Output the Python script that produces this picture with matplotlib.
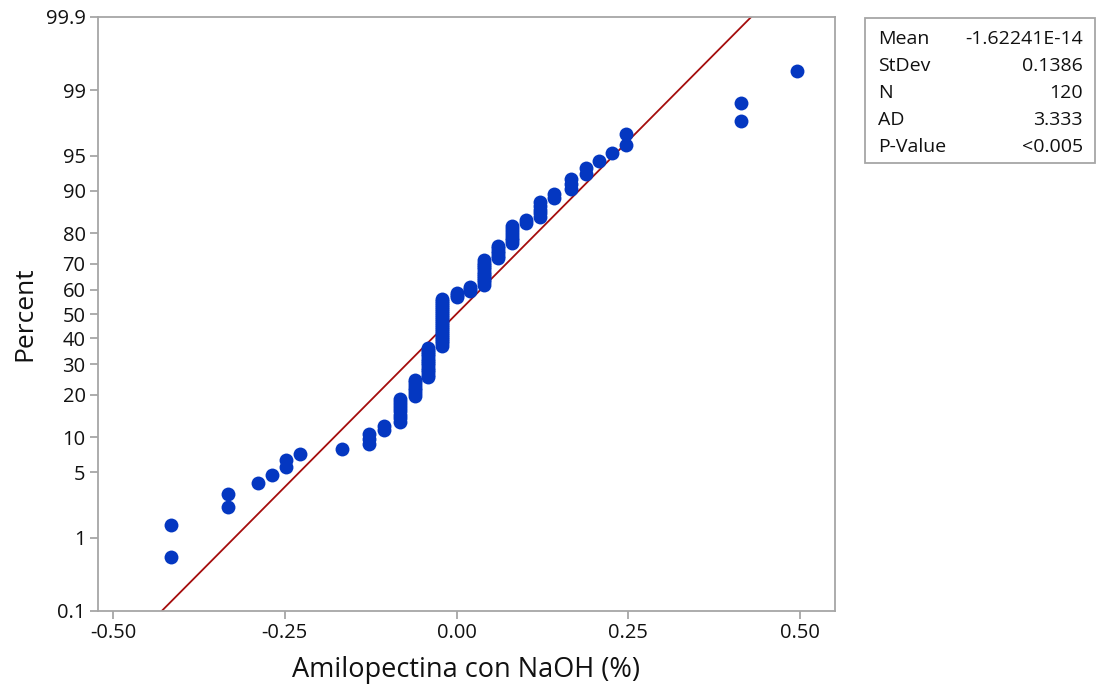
import numpy as np
import matplotlib
matplotlib.use("Agg")
import matplotlib.pyplot as plt
from matplotlib.patches import Rectangle
from statistics import NormalDist

# ---- data ----
values = [-0.415, -0.333, -0.289, -0.269, -0.249, -0.228, -0.167, -0.127, -0.106,
          -0.082, -0.061, -0.042, -0.021, 0.000, 0.020, 0.040, 0.061, 0.081,
          0.101, 0.122, 0.142, 0.166, 0.188, 0.207, 0.227, 0.247, 0.414, 0.496]
counts = [2, 2, 1, 1, 2, 1, 1, 3, 2, 8, 7, 14, 24, 3, 3, 12, 6, 7, 2, 5, 2, 3, 2,
          1, 1, 2, 2, 1]
yticks = [0.1, 1, 5, 10, 20, 30, 40, 50, 60, 70, 80, 90, 95, 99, 99.9]
ytick_labels = ["0.1", "1", "5", "10", "20", "30", "40", "50", "60", "70", "80",
                "90", "95", "99", "99.9"]
xticks = [-0.50, -0.25, 0.00, 0.25, 0.50]
stat_names = ["Mean", "StDev", "N", "AD", "P-Value"]
stat_values = ["-1.62241E-14", "0.1386", "120", "3.333", "<0.005"]
xlabel = "Amilopectina con NaOH (%)"
ylabel = "Percent"

plt.rcParams['font.family'] = ['Open Sans', 'DejaVu Sans']

data = np.sort(np.repeat(values, counts))
n = len(data)
ranks = np.arange(1, n + 1)
pct = (ranks - 0.3) / (n + 0.4) * 100.0
mu = data.mean()
sd = data.std(ddof=1)

nd = NormalDist()
_inv = np.vectorize(lambda p: nd.inv_cdf(min(max(p / 100.0, 1e-9), 1 - 1e-9)),
                    otypes=[float])
_cdf = np.vectorize(lambda z: nd.cdf(z) * 100.0, otypes=[float])

def forward(p):
    return _inv(np.asarray(p, dtype=float))

def inverse(z):
    return _cdf(np.asarray(z, dtype=float))

fig = plt.figure(figsize=(11.01, 6.91), dpi=100)
ax = fig.add_axes([98 / 1101, 1 - 611 / 691, (835 - 98) / 1101, (611 - 17) / 691])
ax.set_yscale('function', functions=(forward, inverse))

# fitted line
line_p = np.linspace(0.1, 99.9, 400)
line_x = mu + sd * forward(line_p)
ax.plot(line_x, line_p, color='#a50d0d', lw=1.3, zorder=2)

ax.plot(data, pct, 'o', color='#0437c1', markersize=10, markeredgewidth=0, zorder=3)

ax.set_ylim(0.1, 99.9)
ax.set_xlim(-0.522, 0.551)
ax.set_yticks(yticks)
ax.set_yticklabels(ytick_labels)
ax.minorticks_off()
ax.set_xticks(xticks)
ax.set_xticklabels([f"{v:.2f}".replace("\u2212", "-") for v in xticks])

for s in ax.spines.values():
    s.set_color('#a6a6a6')
    s.set_linewidth(1.3)
ax.tick_params(axis='both', colors='#a6a6a6', length=6, width=1.3,
               labelcolor='#111111', labelsize=14.5, pad=3)

ax.set_xlabel(xlabel, fontsize=19.5, color='#111111', labelpad=9)
ax.set_ylabel(ylabel, fontsize=19, color='#111111', labelpad=6)

# stats box
W, H = 1101, 691
fig.patches.append(Rectangle((865 / W, 1 - 163 / H), (1095 - 865) / W, (163 - 18) / H,
                             transform=fig.transFigure, facecolor='white',
                             edgecolor='#a6a6a6', linewidth=1.3))
for i, (nm, vl) in enumerate(zip(stat_names, stat_values)):
    yy = 1 - (39 + 27 * i) / H
    fig.text(878 / W, yy, nm, fontsize=14, va='center', ha='left', color='#111111')
    fig.text(1083 / W, yy, vl, fontsize=14, va='center', ha='right', color='#111111')

fig.savefig("out.png", dpi=100)
